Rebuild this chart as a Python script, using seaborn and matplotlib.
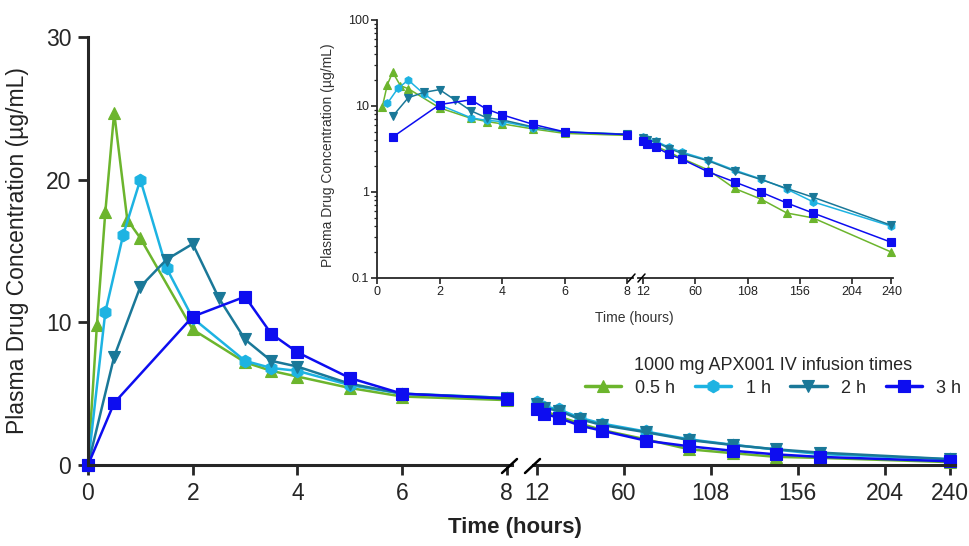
import numpy as np
import pandas as pd
import matplotlib
matplotlib.use("Agg")
import matplotlib.pyplot as plt
from matplotlib.lines import Line2D
import seaborn as sns

# ---------------- data ----------------
groups = ["0.5 h", "1 h", "2 h", "3 h"]
colors = ["#6cb52d", "#1db3e2", "#1a7898", "#0d0df0"]
marker_list = ["^", "h", "v", "s"]

t_05 = [0, 0.17, 0.33, 0.5, 0.75, 1, 2, 3, 3.5, 4, 5, 6, 8,
        12, 16, 24, 36, 48, 72, 96, 120, 144, 168, 240]
c_05 = [0, 9.8, 17.7, 24.7, 17.2, 15.9, 9.5, 7.2, 6.6, 6.2, 5.4, 4.8, 4.55,
        4.1, 3.8, 3.4, 2.9, 2.45, 1.8, 1.1, 0.83, 0.57, 0.50, 0.20]

t_1 = [0, 0.33, 0.67, 1, 1.5, 2, 3, 3.5, 4, 5, 6, 8,
       12, 16, 24, 36, 48, 72, 96, 120, 144, 168, 240]
c_1 = [0, 10.7, 16.1, 20.0, 13.8, 10.3, 7.3, 6.8, 6.6, 5.6, 5.0, 4.7,
       4.4, 4.1, 3.9, 3.3, 2.9, 2.35, 1.8, 1.42, 1.08, 0.77, 0.40]

t_2 = [0, 0.5, 1, 1.5, 2, 2.5, 3, 3.5, 4, 5, 6, 8,
       12, 16, 24, 36, 48, 72, 96, 120, 144, 168, 240]
c_2 = [0, 7.6, 12.5, 14.4, 15.5, 11.7, 8.8, 7.3, 6.9, 5.7, 5.0, 4.7,
       4.3, 4.0, 3.8, 3.2, 2.8, 2.3, 1.75, 1.4, 1.1, 0.87, 0.41]

t_3 = [0, 0.5, 2, 3, 3.5, 4, 5, 6, 8,
       12, 16, 24, 36, 48, 72, 96, 120, 144, 168, 240]
c_3 = [0, 4.35, 10.4, 11.8, 9.2, 7.9, 6.1, 5.0, 4.65,
       3.9, 3.6, 3.3, 2.75, 2.4, 1.71, 1.31, 1.0, 0.745, 0.57, 0.26]

xticks_early = [0, 2, 4, 6, 8]
xticks_late = [12, 60, 108, 156, 204, 240]
yticks_lin = [0, 10, 20, 30]
yticks_log = [0.1, 1, 10, 100]
ytick_log_labels = ["0.1", "1", "10", "100"]

legend_title = "1000 mg APX001 IV infusion times"
ylabel = "Plasma Drug Concentration (µg/mL)"
xlabel = "Time (hours)"

frames = []
for g, t, c in zip(groups, [t_05, t_1, t_2, t_3], [c_05, c_1, c_2, c_3]):
    frames.append(pd.DataFrame({"Time": t, "Conc": c, "Group": g}))
df = pd.concat(frames, ignore_index=True)

palette = dict(zip(groups, colors))
markers = dict(zip(groups, marker_list))

# ---------------- style ----------------
sns.set_style("ticks")
plt.rcParams["font.family"] = ["Liberation Sans", "DejaVu Sans"]

W, H = 970, 546
fig = plt.figure(figsize=(W / 100, H / 100), dpi=100)


def rect(x0, y0, x1, y1):
    return [x0 / W, 1 - y1 / H, (x1 - x0) / W, (y1 - y0) / H]


def fig_line(x0, y0, x1, y1, lw):
    fig.add_artist(Line2D([x0 / W, x1 / W], [1 - y0 / H, 1 - y1 / H],
                          transform=fig.transFigure, color="black", lw=lw))


def draw(ax, d, ms, lw, legend=False):
    sns.lineplot(data=d, x="Time", y="Conc", hue="Group", style="Group",
                 hue_order=groups, style_order=groups, palette=palette,
                 markers=markers, dashes=False, estimator=None, sort=False,
                 markersize=ms, linewidth=lw, markeredgecolor="auto",
                 markeredgewidth=0.8, clip_on=False, ax=ax, legend=legend)


# ---------------- main axes ----------------
ax_l = fig.add_axes(rect(88, 37, 512, 465))
ax_r = fig.add_axes(rect(533, 37, 955, 465))

draw(ax_l, df[df["Time"] <= 8], 9, 1.8, legend=True)
draw(ax_r, df[df["Time"] >= 12], 9, 1.8)

handles, labels = ax_l.get_legend_handles_labels()
ax_l.legend_.remove()

for ax in (ax_l, ax_r):
    ax.set_ylim(0, 30)
    ax.set_xlabel("")
    ax.set_ylabel("")
    for s in ax.spines.values():
        s.set_linewidth(2.2)
    ax.tick_params(axis="both", length=7, width=2, labelsize=16.5, pad=5)
    ax.spines["top"].set_visible(False)
    ax.spines["right"].set_visible(False)

ax_l.set_xlim(0, 8.1)
ax_l.set_xticks(xticks_early)
ax_l.set_yticks(yticks_lin)
ax_r.set_xlim(9.8, 242.8)
ax_r.set_xticks(xticks_late)
ax_r.spines["left"].set_visible(False)
ax_r.tick_params(axis="y", left=False, labelleft=False)

fig.text(18 / W, 1 - 251 / H, ylabel, rotation=90, ha="center", va="center",
         fontsize=16.5, color="#222222")
fig.text(515 / W, 1 - 527 / H, xlabel, ha="center", va="center",
         fontsize=16, fontweight="bold", color="#222222")

# break marks on main x axis
fig_line(502, 473, 517, 459, 1.8)
fig_line(525, 473, 540, 459, 1.8)

# ---------------- inset axes ----------------
ai_l = fig.add_axes(rect(377, 20, 633, 278))
ai_r = fig.add_axes(rect(638, 20, 893, 278))

dlog = df[df["Conc"] > 0]
draw(ai_l, dlog[dlog["Time"] <= 8], 5.5, 1.1)
draw(ai_r, dlog[dlog["Time"] >= 12], 5.5, 1.1)

for ax in (ai_l, ai_r):
    ax.set_yscale("log")
    ax.set_ylim(0.1, 100)
    ax.set_xlabel("")
    ax.set_ylabel("")
    for s in ax.spines.values():
        s.set_linewidth(1.3)
    ax.spines["top"].set_visible(False)
    ax.spines["right"].set_visible(False)
    ax.tick_params(axis="both", which="major", length=4, width=1.2,
                   labelsize=9, pad=2, colors="#222222")
    ax.tick_params(axis="y", which="minor", length=2.5, width=0.9)

ai_l.set_xlim(0, 8.18)
ai_l.set_xticks(xticks_early)
ai_l.set_yticks(yticks_log)
ai_l.set_yticklabels(ytick_log_labels)
ai_r.set_xlim(7.4, 241.5)
ai_r.set_xticks(xticks_late)
ai_r.spines["left"].set_visible(False)
ai_r.tick_params(axis="y", which="both", left=False, labelleft=False)

fig.text(328 / W, 1 - 155 / H, ylabel, rotation=90, ha="center", va="center",
         fontsize=10, color="#333333")
fig.text(634 / W, 1 - 318 / H, xlabel, ha="center", va="center",
         fontsize=10, color="#333333")

fig_line(628, 282, 635, 274, 1.1)
fig_line(638, 282, 645, 274, 1.1)

# ---------------- legend ----------------
for h in handles:
    h.set_markeredgecolor(h.get_color())
    h.set_markersize(9)
    h.set_linewidth(2.5)
fig.legend(handles, labels, title=legend_title, loc="center",
           bbox_to_anchor=(773 / W, 1 - 377 / H), ncol=4, frameon=False,
           fontsize=13, title_fontsize=13, handlelength=2.0,
           handletextpad=0.8, columnspacing=1.1, borderpad=0.2,
           labelspacing=0.3)

fig.savefig("out.png", dpi=100)
